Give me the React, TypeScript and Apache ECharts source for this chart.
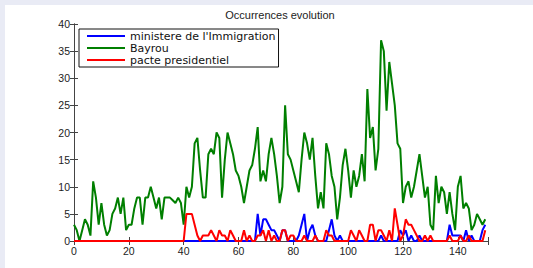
import React, { useEffect, useRef } from "react";
import * as echarts from "echarts";

const titleText = "Occurrences evolution";
const seriesNames = ["ministere de l'Immigration", "Bayrou", "pacte presidentiel"];
const seriesColors = ["#0000ff", "#007f00", "#ff0000"];

const bayrou = [
  3, 2, 0, 2, 4, 3, 1, 11, 8, 3, 7, 3, 1, 2, 5, 6, 8, 5, 8, 2,
  3, 3, 6, 8, 8, 3, 8, 8, 10, 8, 6, 8, 4, 8, 8, 8, 7.5, 7, 8, 7,
  3, 10, 8, 10, 18, 19, 13, 8, 8, 16, 17, 16, 20, 19, 8, 15, 20, 18, 16, 13,
  12, 10, 7, 10, 13, 14, 17, 21, 11, 13, 11, 16, 19, 16, 12, 7, 10, 25, 16, 15,
  13, 11, 9, 15, 20, 18, 15, 19, 12, 6, 9, 6, 18, 16, 12, 10, 4, 8, 14, 17,
  13, 8, 13, 10, 12, 16, 11, 28, 19, 21, 13, 17, 37, 35, 24, 33, 29, 25, 18, 17,
  7, 10, 11, 8, 10, 13, 16, 12, 8, 10, 3, 2, 12, 7, 10, 9, 5, 9, 5, 2,
  10, 12, 6, 7, 6, 2, 3, 5, 4, 3, 4,
];

const ministere = [
  0, 0, 0, 0, 0, 0, 0, 0, 0, 0, 0, 0, 0, 0, 0, 0, 0, 0, 0, 0,
  0, 0, 0, 0, 0, 0, 0, 0, 0, 0, 0, 0, 0, 0, 0, 0, 0, 0, 0, 0,
  0, 0, 0, 0, 0, 0, 0, 0, 0, 0, 0, 0, 0, 0, 0, 0, 0, 0, 0, 0,
  0, 0, 0, 0, 0, 0, 0, 5, 1, 4, 4, 3, 2, 2, 1, 0, 2, 2, 0, 0,
  0, 0, 1, 3, 5, 0, 2, 3, 1, 0, 0, 0, 0, 2, 4, 1, 0, 1, 0, 0,
  0, 0, 0, 0, 0, 0, 0, 0, 0, 0, 0, 0, 1, 0, 0, 0, 0, 0, 0, 2,
  1, 2, 0, 1, 0, 0, 1, 0, 0, 0, 0, 0, 0, 0, 0, 0, 0, 3, 1, 1,
  1, 1, 0, 2, 0, 1, 0, 0, 0, 2, 3,
];

const pacte = [
  0, 0, 0, 0, 0, 0, 0, 0, 0, 0, 0, 0, 0, 0, 0, 0, 0, 0, 0, 0,
  0, 0, 0, 0, 0, 0, 0, 0, 0, 0, 0, 0, 0, 0, 0, 0, 0, 0, 0, 0,
  0, 5, 5, 5, 3, 1, 0, 1, 1, 1, 2, 1, 0, 2, 1, 1, 0, 2, 1, 0,
  0, 0, 2, 0, 1, 0, 0, 1, 1, 2, 0, 2, 0, 1, 0, 0, 2, 2, 0, 1,
  1, 0, 0, 0, 1, 0, 0, 0, 1, 0, 0, 0, 2, 1, 1, 0, 0, 0, 0, 0,
  0, 2, 1, 0, 2, 1, 0, 0, 3, 3, 0, 2, 2, 1, 0, 2, 0, 6, 3, 0,
  1, 4, 3, 3, 2, 1, 0, 0, 1, 0, 1, 0, 0, 0, 0, 0, 0, 1, 0, 0,
  0, 1, 0, 0, 1, 0, 0, 0, 0, 0, 2,
];

const xMax = 151;
const xInterval = 20;
const yMax = 40;
const yInterval = 5;

const toPairs = (arr: number[]) => arr.map((v, i) => [i, v]);

export default function App() {
  const ref = useRef<HTMLDivElement>(null);
  useEffect(() => {
    if (!ref.current) return;
    const chart = echarts.init(ref.current, null, { renderer: "svg" });
    const font = "Liberation Sans, Arial, sans-serif";
    const legendFont = "DejaVu Sans, sans-serif";
    const axisColor = "#444";
    const labelColor = "#222";
    const xFmt = (v: number) => (v % xInterval === 0 ? String(v) : "");
    const yFmt = (v: number) => (v % yInterval === 0 ? String(v) : "");
    chart.setOption({
      animation: false,
      backgroundColor: "#e9ebf5",
      graphic: [
        {
          type: "rect",
          shape: { x: 5, y: 5, width: 528, height: 263 },
          style: { fill: "#ffffff" },
          z: -10,
        },
      ],
      title: {
        text: titleText,
        left: 275,
        textAlign: "center",
        top: 4,
        textStyle: { fontFamily: font, fontSize: 11, fontWeight: "normal", color: labelColor },
      },
      legend: {
        data: seriesNames,
        orient: "vertical",
        left: 79,
        top: 29,
        backgroundColor: "#fff",
        borderColor: "#111",
        borderWidth: 1,
        padding: [1, 3, 1, 8],
        itemGap: 0,
        itemWidth: 38,
        itemHeight: 2,
        icon: "rect",
        textStyle: { fontFamily: legendFont, fontSize: 11, color: "#111", lineHeight: 12 },
      },
      grid: { left: 74, top: 24, width: 414, height: 217, containLabel: false },
      xAxis: [
        {
          type: "value",
          min: 0,
          max: xMax,
          interval: xInterval,
          axisLine: { show: true, lineStyle: { color: axisColor, width: 1 } },
          axisTick: { show: true, inside: true, length: 4, lineStyle: { color: axisColor } },
          axisLabel: { formatter: xFmt, fontFamily: font, fontSize: 10.5, color: labelColor, margin: 4 },
          splitLine: { show: false },
        },
        {
          type: "value",
          position: "top",
          min: 0,
          max: xMax,
          interval: xInterval,
          axisLine: { show: true, lineStyle: { color: axisColor, width: 1 } },
          axisTick: { show: true, inside: true, length: 4, lineStyle: { color: axisColor } },
          axisLabel: { show: false },
          splitLine: { show: false },
        },
      ],
      yAxis: [
        {
          type: "value",
          min: 0,
          max: yMax,
          interval: yInterval,
          axisLine: { show: true, lineStyle: { color: axisColor, width: 1 } },
          axisTick: { show: true, inside: true, length: 4, lineStyle: { color: axisColor } },
          axisLabel: { formatter: yFmt, fontFamily: font, fontSize: 10.5, color: labelColor, margin: 4 },
          splitLine: { show: false },
        },
        {
          type: "value",
          position: "right",
          min: 0,
          max: yMax,
          interval: yInterval,
          axisLine: { show: true, lineStyle: { color: axisColor, width: 1 } },
          axisTick: { show: true, inside: true, length: 4, lineStyle: { color: axisColor } },
          axisLabel: { show: false },
          splitLine: { show: false },
        },
      ],
      series: [
        { name: seriesNames[0], data: toPairs(ministere), color: seriesColors[0] },
        { name: seriesNames[1], data: toPairs(bayrou), color: seriesColors[1] },
        { name: seriesNames[2], data: toPairs(pacte), color: seriesColors[2] },
      ].map((s) => ({
        ...s,
        type: "line",
        xAxisIndex: 0,
        yAxisIndex: 0,
        symbol: "none",
        lineStyle: { width: 2, color: s.color },
        itemStyle: { color: s.color },
        clip: true,
      })),
    });
    return () => chart.dispose();
  }, []);
  return (
    <div
      ref={ref}
      style={{ position: "fixed", left: 0, top: 0, width: 533, height: 268 }}
    />
  );
}
